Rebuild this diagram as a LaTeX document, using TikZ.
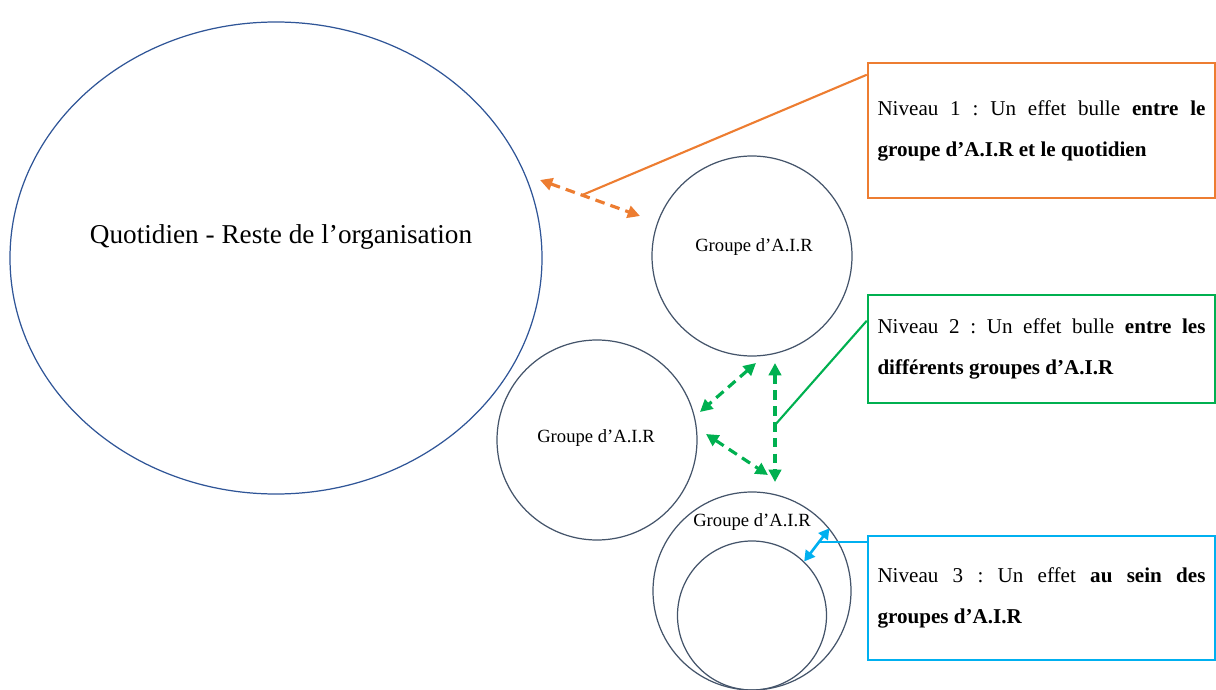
\documentclass[tikz,border=0pt]{standalone}
\usepackage{fontspec}
\setmainfont{Liberation Serif}
\usetikzlibrary{shapes.geometric,arrows.meta,calc}
\frenchspacing

\definecolor{quotblue}{HTML}{2F5597}
\definecolor{slate}{HTML}{44546A}
\definecolor{lvlorange}{HTML}{ED7D31}
\definecolor{lvlgreen}{HTML}{00B050}
\definecolor{lvlblue}{HTML}{00B0F0}

\begin{document}
\begin{tikzpicture}[
    bubble/.style={circle, draw=slate, line width=0.7pt, inner sep=0pt, minimum size=#1},
    bubbletext/.style={font=\fontsize{10.6}{12}\selectfont, inner sep=0pt},
    levelbox/.style={draw=#1, line width=1.4pt, rectangle, minimum width=6.94cm,
        text width=6.56cm, inner xsep=0.19cm, align=justify,
        font=\fontsize{12}{23.3}\selectfont},
    twoway/.style={draw=#1, line width=1.8pt, dash pattern=on 5.5pt off 3.5pt,
        {Triangle[length=7pt,width=7pt]}-{Triangle[length=7pt,width=7pt]}},
    link/.style={draw=#1, line width=1.2pt}
]
    \useasboundingbox (0,0) rectangle (24.32,-13.8);
    % Nodes
    \node[ellipse, draw=quotblue, line width=0.7pt, inner sep=0pt,
        minimum width=10.64cm, minimum height=9.44cm] (quot) at (5.52,-5.16) {};
    \node[font=\fontsize{15.5}{18}\selectfont, inner sep=0pt] (quottxt) at (5.62,-4.74)
        {Quotidien - Reste de l’organisation};
    \node[bubble=4cm] (g1) at (15.04,-5.12) {};
    \node[bubbletext] (g1txt) at (15.08,-4.94) {Groupe d’A.I.R};
    \node[bubble=4cm] (g2) at (11.94,-8.80) {};
    \node[bubbletext] (g2txt) at (11.92,-8.76) {Groupe d’A.I.R};
    \node[bubble=3.96cm] (g3) at (15.04,-11.82) {};
    \node[bubble=2.98cm] (g3in) at (15.04,-12.31) {};
    \node[bubbletext] (g3txt) at (15.04,-10.44) {Groupe d’A.I.R};
    \node[levelbox=lvlorange, minimum height=2.70cm] (lvl1) at (20.83,-2.61)
        {Niveau 1 : Un effet bulle \textbf{entre le}\linebreak
         \textbf{groupe d’A.I.R et le quotidien}};
    \node[levelbox=lvlgreen, minimum height=2.16cm] (lvl2) at (20.83,-6.98)
        {Niveau 2 : Un effet bulle \textbf{entre les}\linebreak
         \textbf{différents groupes d’A.I.R}};
    \node[levelbox=lvlblue, minimum height=2.48cm] (lvl3) at (20.83,-11.96)
        {Niveau 3 : Un effet \textbf{au sein des}\linebreak
         \textbf{groupes d’A.I.R}};
    % Arrow ends
    \coordinate (o1) at (10.80,-3.60);
    \coordinate (o2) at (12.80,-4.32);
    \coordinate (gv1) at (15.50,-7.26);
    \coordinate (gv2) at (15.50,-9.64);
    \coordinate (gd1) at (15.12,-7.26);
    \coordinate (gd2) at (14.00,-8.24);
    \coordinate (gd3) at (14.12,-8.68);
    \coordinate (gd4) at (15.36,-9.50);
    \coordinate (oj) at ($(o1)!0.42!(o2)$);
    \coordinate (gj) at (15.50,-8.50);
    \coordinate (bj) at ($(g3.39)!0.42!(g3in.46)$);
    % Edges
    \draw[twoway=lvlorange] (o1) -- (o2);
    \draw[twoway=lvlgreen] (gv1) -- (gv2);
    \draw[twoway=lvlgreen] (gd1) -- (gd2);
    \draw[twoway=lvlgreen] (gd3) -- (gd4);
    \draw[draw=lvlblue, line width=1.5pt,
        {Triangle[length=6pt,width=6.5pt]}-{Triangle[length=6pt,width=6.5pt]}] (g3.39) -- (g3in.46);
    \draw[link=lvlorange] (oj) -- ([yshift=-0.26cm]lvl1.north west);
    \draw[link=lvlgreen] (gj) -- ([yshift=-0.54cm]lvl2.north west);
    \draw[link=lvlblue] (bj) -- (bj -| lvl3.west);
\end{tikzpicture}
\end{document}
